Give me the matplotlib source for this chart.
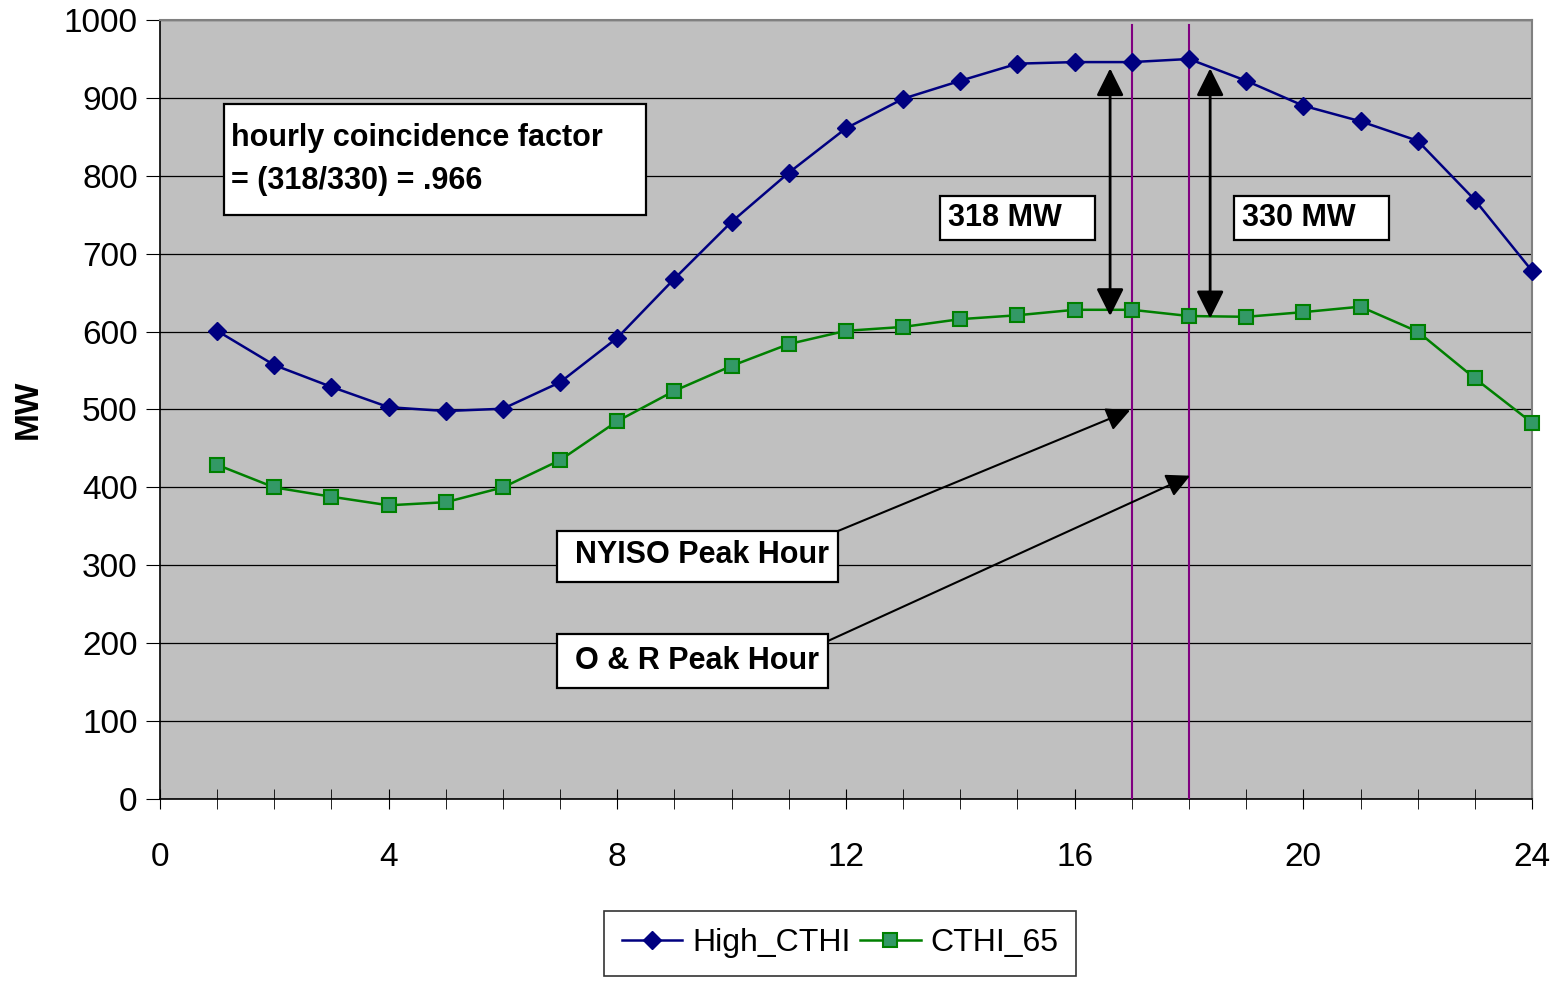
import matplotlib.pyplot as plt
import numpy as np
from matplotlib.patches import Rectangle

plt.rcParams["font.family"] = ["Liberation Sans", "DejaVu Sans"]

hours = np.arange(1, 25)
high_cthi = [601, 557, 529, 503, 498, 501, 535, 592, 668, 741, 804, 861,
             899, 922, 944, 946, 946, 950, 922, 890, 870, 845, 769, 678]
cthi_65 = [429, 400, 388, 377, 381, 400, 435, 485, 524, 556, 584, 601,
           606, 616, 621, 628, 628, 620, 619, 625, 632, 600, 540, 483]

nyiso_peak = 17
onr_peak = 18
diff_nyiso = 318
diff_onr = 330
factor_text = "hourly coincidence factor\n= (318/330) = .966"

fig = plt.figure(figsize=(15.62, 9.82), dpi=100)
ax = fig.add_axes([0.1024, 0.1864, 0.8784, 0.7932])
ax.set_facecolor("#c0c0c0")

ax.plot(hours, high_cthi, color="#000080", lw=1.8, marker="D", ms=9,
        mfc="#000080", mec="#000080", label="High_CTHI", zorder=4,
        clip_on=False)
ax.plot(hours, cthi_65, color="#008000", lw=1.8, marker="s", ms=10,
        mfc="#339966", mec="#008000", mew=1.5, label="CTHI_65", zorder=4,
        clip_on=False)

ax.set_xlim(0, 24)
ax.set_ylim(0, 1000)
ax.set_yticks(np.arange(0, 1001, 100))
ax.set_xticks(np.arange(0, 25, 4))
ax.set_xticks(np.arange(0, 25, 1), minor=True)
ax.yaxis.grid(True, color="black", lw=0.9)
ax.set_axisbelow(True)
ax.tick_params(axis="y", direction="out", length=10, labelsize=24, pad=6)
ax.tick_params(axis="x", which="both", direction="inout", length=14,
               labelsize=24, pad=24)
for side in ("top", "right"):
    ax.spines[side].set_color("#808080")
    ax.spines[side].set_linewidth(1.5)
ax.spines["left"].set_linewidth(1.2)
ax.spines["bottom"].set_linewidth(1.2)
ax.set_ylabel("MW", fontsize=24, fontweight="bold")
ax.yaxis.set_label_coords(-0.085, 0.5)

# peak-hour markers
for h in (nyiso_peak, onr_peak):
    ax.axvline(h, ymax=0.993, color="#800080", lw=1.5, zorder=3)

# load-difference arrows between the two curves
arrow_kw = dict(arrowstyle="<|-|>", color="black", lw=2,
                mutation_scale=42, shrinkA=0, shrinkB=0)
ax.annotate("", xy=(16.62, 938), xytext=(16.62, 620),
            arrowprops=arrow_kw, zorder=5)
ax.annotate("", xy=(18.37, 938), xytext=(18.37, 617),
            arrowprops=arrow_kw, zorder=5)

box_font = dict(fontsize=22, fontweight="bold", zorder=7)


def text_box(x0, x1, y0, y1, tx, ty, s, **kw):
    ax.add_patch(Rectangle((x0, y0), x1 - x0, y1 - y0, fc="white",
                           ec="black", lw=1.6, zorder=6))
    ax.text(tx, ty, s, ha="left", va="center", **box_font, **kw)


text_box(1.12, 8.50, 750, 892, 1.24, 821, factor_text, linespacing=1.55)
text_box(13.64, 16.36, 718, 774, 13.78, 746, f"{diff_nyiso} MW")
text_box(18.79, 21.50, 718, 774, 18.93, 746, f"{diff_onr} MW")
text_box(6.94, 11.86, 279, 344, 7.26, 313, "NYISO Peak Hour")
text_box(6.94, 11.69, 142, 212, 7.26, 177, "O & R Peak Hour")

pointer_kw = dict(arrowstyle="-|>", color="black", lw=1.5,
                  mutation_scale=36, shrinkA=0, shrinkB=0)
ax.annotate("", xy=(16.97, 499), xytext=(11.86, 344),
            arrowprops=pointer_kw, zorder=5)
ax.annotate("", xy=(18.02, 415), xytext=(11.69, 203),
            arrowprops=pointer_kw, zorder=5)

leg = fig.legend(loc="center", bbox_to_anchor=(0.5378, 0.0395), ncol=2,
                 fontsize=23, frameon=True, fancybox=False, edgecolor="black",
                 handlelength=1.9, handletextpad=0.3, columnspacing=0.3,
                 borderpad=0.55, borderaxespad=0)
leg.get_frame().set_linewidth(1.2)

fig.savefig("out.png", dpi=100)
